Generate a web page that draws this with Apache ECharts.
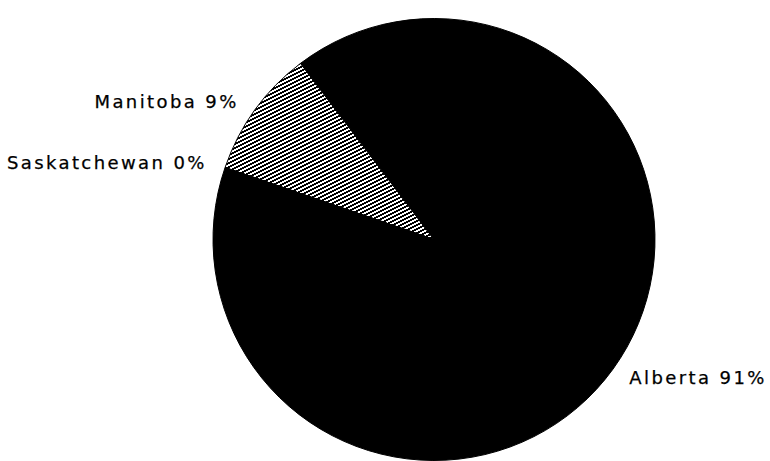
<!DOCTYPE html>
<html>
<head>
<meta charset="utf-8">
<script src="https://cdn.jsdelivr.net/npm/echarts@6/dist/echarts.min.js"></script>
<style>
html,body{margin:0;padding:0;background:#fff;}
#chart{width:770px;height:461px;}
#chart text{letter-spacing:2.4px;}
</style>
</head>
<body>
<div id="chart"></div>
<script>
const categories = ['Manitoba', 'Alberta', 'Saskatchewan'];
const values = [9.4, 90.6, 0];

function hatch() {
  const c = document.createElement('canvas');
  c.width = 8; c.height = 4;
  const g = c.getContext('2d');
  const img = g.createImageData(8, 4);
  for (let y = 0; y < 4; y++) {
    for (let x = 0; x < 8; x++) {
      const black = ((y + Math.floor(x / 2)) % 4) < 2;
      const i = (y * 8 + x) * 4;
      const v = black ? 0 : 255;
      img.data[i] = v; img.data[i + 1] = v; img.data[i + 2] = v; img.data[i + 3] = 255;
    }
  }
  g.putImageData(img, 0, 0);
  return c;
}

const fills = [{ image: hatch(), repeat: 'repeat' }, '#000', '#000'];

const chart = echarts.init(document.getElementById('chart'), null, { renderer: 'svg' });
chart.setOption({
  backgroundColor: '#fff',
  animation: false,
  series: [{
    type: 'pie',
    center: [434, 239.5],
    radius: 221,
    startAngle: 161,
    clockwise: true,
    avoidLabelOverlap: false,
    data: categories.map((n, i) => ({ name: n, value: values[i], itemStyle: { color: fills[i] } })),
    itemStyle: { borderColor: '#000', borderWidth: 1 },
    label: {
      show: true,
      position: 'outside',
      color: '#000',
      fontFamily: 'DejaVu Sans',
      fontSize: 18,
      textBorderColor: '#000',
      textBorderWidth: 0.25,
      formatter: p => p.name + ' ' + Math.round(p.percent) + '%'
    },
    labelLine: { show: false, length: 14, length2: 0 },
    emphasis: { disabled: true }
  }]
});
</script>
</body>
</html>
